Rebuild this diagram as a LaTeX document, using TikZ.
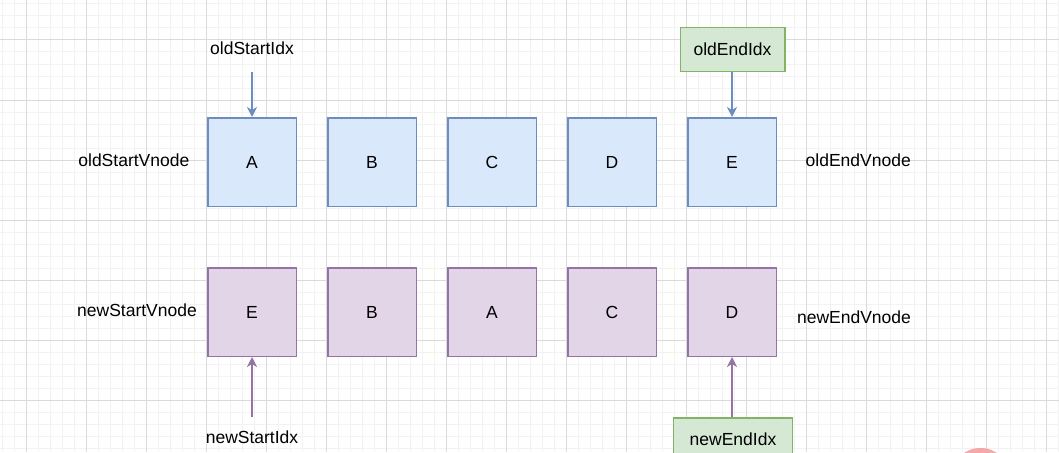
\documentclass[tikz,border=0pt]{standalone}
\usepackage{fontspec}
\setmainfont{Liberation Sans}
\usetikzlibrary{arrows.meta}
\definecolor{gridmajor}{HTML}{DADADA}
\definecolor{gridminor}{HTML}{F2F2F2}
\definecolor{bluefill}{HTML}{DAE8FC}
\definecolor{bluedraw}{HTML}{6C8EBF}
\definecolor{purplefill}{HTML}{E1D5E7}
\definecolor{purpledraw}{HTML}{9673A6}
\definecolor{greenfill}{HTML}{D5E8D4}
\definecolor{greendraw}{HTML}{82B366}
\definecolor{blob}{HTML}{F6A8A8}
\tikzset{
  txt/.style={font=\fontsize{17.5}{20}\selectfont, inner sep=0pt},
  oldbox/.style={txt, draw=bluedraw, fill=bluefill, line width=1.5pt, minimum width=88.5pt, minimum height=88.5pt},
  newbox/.style={txt, draw=purpledraw, fill=purplefill, line width=1.5pt, minimum width=88.5pt, minimum height=88.5pt},
  idxbox/.style={txt, draw=greendraw, fill=greenfill, line width=1.5pt, minimum height=43.5pt},
  oldarrow/.style={draw=bluedraw, line width=1.5pt, -{Stealth[length=10pt, width=10pt, inset=3pt]}},
  newarrow/.style={draw=purpledraw, line width=1.5pt, -{Stealth[length=10pt, width=10pt, inset=3pt]}},
}
\begin{document}
\begin{tikzpicture}[x=1pt, y=-1pt]
\useasboundingbox (0,0) rectangle (1059,452);
\begin{scope}
\clip (0,0) rectangle (1059,452);
\fill[white] (0,0) rectangle (1059,452);
% minor grid
\foreach \i in {0,...,88} {\draw[gridminor, line width=1pt] (2.7+12*\i,0) -- (2.7+12*\i,452);}
\foreach \j in {0,...,37} {\draw[gridminor, line width=1pt] (0,4+12*\j) -- (1059,4+12*\j);}
% major grid
\foreach \i in {0,...,17} {\draw[gridmajor, line width=1pt] (26.7+60*\i,0) -- (26.7+60*\i,452);}
\foreach \j in {0,...,7} {\draw[gridmajor, line width=1pt] (0,40+60*\j) -- (1059,40+60*\j);}
% watermark blob
\fill[blob] (980.5,478) circle (30);

% old row
\node[oldbox] (oA) at (252,162) {A};
\node[oldbox] (oB) at (372,162) {B};
\node[oldbox] (oC) at (492,162) {C};
\node[oldbox] (oD) at (612,162) {D};
\node[oldbox] (oE) at (732,162) {E};
% new row
\node[newbox] (nE) at (252,312) {E};
\node[newbox] (nB) at (372,312) {B};
\node[newbox] (nA) at (492,312) {A};
\node[newbox] (nC) at (612,312) {C};
\node[newbox] (nD) at (732,312) {D};

% labels
\node[txt] (osi) at (252,48) {oldStartIdx};
\coordinate (osiend) at (252,72);
\draw[oldarrow] (osiend) -- (oA.north);

\node[idxbox, minimum width=104.5pt] (oei) at (732.5,49.5) {oldEndIdx};
\draw[oldarrow] (oei.south -| oE) -- (oE.north);

\node[txt] (nsi) at (252,437) {newStartIdx};
\coordinate (nsiend) at (252,417);
\draw[newarrow] (nsiend) -- (nE.south);

\node[idxbox, minimum width=119pt] (nei) at (733,439.5) {newEndIdx};
\draw[newarrow] (nei.north -| nD) -- (nD.south);

\node[txt, anchor=east] (osv) at (189.5,160) {oldStartVnode};
\node[txt, anchor=west] (oev) at (805.5,160) {oldEndVnode};
\node[txt] (nsv) at (137,310) {newStartVnode};
\node[txt] (nev) at (854,317) {newEndVnode};
\end{scope}
\end{tikzpicture}
\end{document}
